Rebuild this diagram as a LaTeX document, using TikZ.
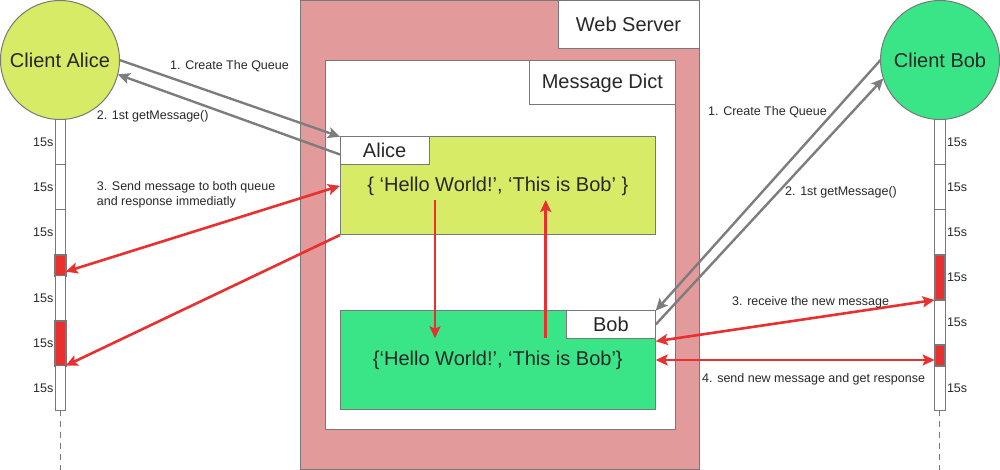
\documentclass[tikz,border=0pt]{standalone}
\usepackage{fontspec}
\setmainfont{Liberation Sans}
\usetikzlibrary{arrows.meta,calc}
\definecolor{srvpink}{RGB}{227,154,154}
\definecolor{alicegreen}{RGB}{216,235,102}
\definecolor{bobgreen}{RGB}{58,229,136}
\definecolor{redline}{RGB}{232,48,48}
\definecolor{grayline}{RGB}{125,125,125}
\definecolor{edge}{RGB}{120,120,120}
\definecolor{txt}{RGB}{40,40,40}
\tikzset{tipS/.tip={Stealth[length=12pt,width=11pt,inset=2.5pt]}}
\begin{document}
\begin{tikzpicture}[x=1pt,y=-1pt,
  box/.style={draw=edge, line width=1pt, inner sep=0pt, outer sep=0pt, anchor=north west, text=txt, font=\fontsize{20}{24}\selectfont},
  client/.style={circle, draw=edge, line width=1pt, inner sep=0pt, outer sep=0pt, minimum size=119pt, text=txt, font=\fontsize{20}{24}\selectfont},
  seg/.style={draw=edge, line width=1pt, fill=white, inner sep=0pt, outer sep=0pt, anchor=north west, minimum width=10.7pt},
  redseg/.style={seg, fill=redline, line width=1.8pt},
  tlab/.style={inner sep=0pt, text=txt, font=\fontsize{12.5}{15}\selectfont},
  elab/.style={inner sep=0pt, anchor=west, text=txt, font=\fontsize{12.5}{15}\selectfont, align=left},
  grayarrow/.style={draw=grayline, line width=2.4pt, -{tipS}},
  redarrow/.style={draw=redline, line width=2.6pt, -{tipS}},
  reddouble/.style={draw=redline, line width=2.6pt, {tipS}-{tipS}},
  lifeline/.style={draw=edge, line width=1pt, dash pattern=on 6pt off 5pt},
]
\useasboundingbox (0,0) rectangle (1000,470);

% Web server
\node[box, fill=srvpink, minimum width=399pt, minimum height=468.5pt] (server) at (300.5,0.5) {};
\node[box, fill=white, minimum width=141pt, minimum height=48.5pt] (serverlabel) at (558,0.5) {Web Server};
% Message dict
\node[box, fill=white, minimum width=350pt, minimum height=368.3pt] (dict) at (325.7,60.7) {};
\node[box, fill=white, minimum width=146.7pt, minimum height=44.3pt] (dictlabel) at (529,60.7) {Message Dict};
% Alice queue
\node[box, fill=alicegreen, minimum width=315.7pt, minimum height=98.3pt] (alicebox) at (340,136.7) {\{ ‘Hello World!’, ‘This is Bob’ \}};
\node[box, fill=white, minimum width=89.3pt, minimum height=27.6pt] (alicelabel) at (340,136.7) {Alice};
% Bob queue
\node[box, fill=bobgreen, minimum width=315.7pt, minimum height=98.6pt] (bobbox) at (340,310.7) {\{‘Hello World!’, ‘This is Bob’\}};
\node[box, fill=white, minimum width=89.7pt, minimum height=27.6pt] (boblabel) at (566,310.7) {Bob};

% Clients
\node[client, fill=alicegreen] (alice) at (60,60) {Client Alice};
\node[client, fill=bobgreen] (bob) at (940,60) {Client Bob};

% Alice timeline
\node[seg, minimum height=45pt] (a1) at (55,120) {};
\node[seg, minimum height=45pt] (a2) at (55,165) {};
\node[seg, minimum height=45pt] (a3) at (55,210) {};
\node[redseg, minimum height=20.7pt] (ar1) at (55,255) {};
\node[seg, minimum height=45pt] (a4) at (55,275.7) {};
\node[redseg, minimum height=45pt] (ar2) at (55,320.7) {};
\node[seg, minimum height=44.3pt] (a5) at (55,365.7) {};
\draw[lifeline] (a5.south) -- ++(0,60);
\foreach \s in {a1,a2,a3,a4,ar2,a5}
  \node[tlab, anchor=east] at ([xshift=-1.5pt]\s.west) {15s};

% Bob timeline
\node[seg, minimum height=45pt] (b1) at (934.6,120) {};
\node[seg, minimum height=45pt] (b2) at (934.6,165) {};
\node[seg, minimum height=45pt] (b3) at (934.6,210) {};
\node[redseg, minimum height=45pt] (br1) at (934.6,255) {};
\node[seg, minimum height=45pt] (b4) at (934.6,300) {};
\node[redseg, minimum height=21pt] (br2) at (934.6,345) {};
\node[seg, minimum height=44pt] (b5) at (934.6,366) {};
\draw[lifeline] (b5.south) -- ++(0,60);
\foreach \s in {b1,b2,b3,br1,b4,b5}
  \node[tlab, anchor=west] at ([xshift=1.5pt]\s.east) {15s};

% Alice connectors
\draw[grayarrow] (alice.east) -- (alicelabel.north west);
\draw[grayarrow] ([yshift=-4pt]alicelabel.west) -- (alice.-14);
\draw[reddouble] ([yshift=4pt]ar1.south east) -- (alicebox.west);
\draw[redarrow] (alicebox.south west) -- (ar2.south east);
\node[elab] (l1a) at (170,66) {1. Create The Queue};
\node[elab] (l2a) at (96.7,116.7) {2. 1st getMessage()};
\node[elab] (l3a) at (96.7,195) {3. Send message to both queue\\and response immediatly};

% Bob connectors
\draw[grayarrow] (bob.west) -- (boblabel.north east);
\draw[grayarrow] (boblabel.east) -- (bob.198);
\draw[reddouble] ([yshift=-3pt]boblabel.south east) -- (br1.south west);
\draw[reddouble] (bobbox.east) -- (bobbox.east -| br2.west);
\node[elab] (l1b) at (708,112.3) {1. Create The Queue};
\node[elab] (l2b) at (785,192.7) {2. 1st getMessage()};
\node[elab] (l3b) at (732,302.3) {3. receive the new message};
\node[elab] (l4b) at (702,379.7) {4. send new message and get response};

% Copy between queues
\coordinate (dtop) at (435,200);
\coordinate (ubot) at (545.7,338.3);
\draw[redarrow] (dtop) -- (dtop |- boblabel.south);
\draw[redarrow] (ubot) -- (ubot |- dtop);
\end{tikzpicture}
\end{document}
